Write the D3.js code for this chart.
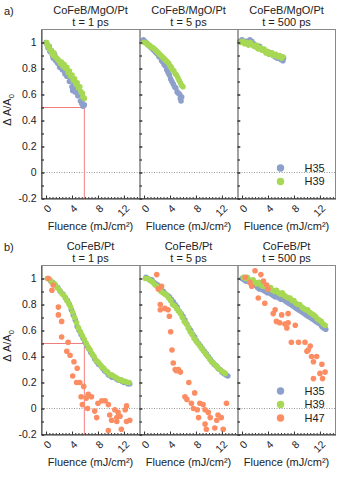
<!DOCTYPE html>
<html>
<head>
<meta charset="utf-8">
<script src="https://cdn.jsdelivr.net/npm/d3@7"></script>
<style>
body { margin: 0; background: #fff; }
text { font-family: "Liberation Sans", Arial, sans-serif; fill: #222; }
</style>
</head>
<body>
<div id="chart"></div>
<script>
// series names and tick labels
let seriesNames = ["H35", "H39", "H47"];
let delays = ["t = 1 ps", "t = 5 ps", "t = 500 ps"];
let xTickValues = [0, 4, 8, 12];
let yTickValues = [-0.2, 0, 0.2, 0.4, 0.6, 0.8, 1];
let yTickLabels = ["-0.2", "0", "0.2", "0.4", "0.6", "0.8", "1"];
let halfLevel = 0.5;
let halfFluence = [5.9, 5.9];

// a) CoFeB/MgO/Pt  [fluence, dA/A0]
let a1H35 = [[0.0,1.00],[0.2,0.98],[0.3,0.96],[0.5,0.97],[0.6,0.93],[0.8,0.94],[1.0,0.90],[1.1,0.88],[1.3,0.91],[1.5,0.86],[1.6,0.88],[1.8,0.84],[2.0,0.85],[2.1,0.81],[2.3,0.83],[2.5,0.79],[2.7,0.80],[2.9,0.76],[3.0,0.78],[3.2,0.74],[3.4,0.75],[3.6,0.70],[3.8,0.72],[4.0,0.66],[4.1,0.63],[4.3,0.68],[4.5,0.62],[4.7,0.64],[4.9,0.59],[5.1,0.60],[5.3,0.55],[5.5,0.53],[5.6,0.56],[5.7,0.51],[5.9,0.52]];
let a1H39 = [[0.1,1.00],[0.2,0.98],[0.4,0.97],[0.5,0.95],[0.7,0.94],[0.9,0.92],[1.1,0.90],[1.2,0.92],[1.4,0.89],[1.6,0.88],[1.8,0.87],[2.0,0.86],[2.2,0.84],[2.4,0.85],[2.6,0.82],[2.8,0.83],[3.0,0.80],[3.2,0.81],[3.4,0.77],[3.6,0.78],[3.8,0.74],[4.0,0.75],[4.2,0.71],[4.4,0.72],[4.6,0.68],[4.8,0.69],[5.0,0.65],[5.2,0.66],[5.4,0.62],[5.6,0.61],[5.7,0.58],[5.9,0.57]];
let a2H35 = [[-0.1,1.02],[0.1,1.01],[0.3,1.00],[0.5,0.99],[0.7,0.98],[0.9,0.97],[1.1,0.96],[1.3,0.95],[1.5,0.94],[1.7,0.93],[1.9,0.92],[2.1,0.91],[2.3,0.89],[2.5,0.89],[2.7,0.86],[2.9,0.85],[3.1,0.83],[3.3,0.82],[3.5,0.79],[3.7,0.77],[3.9,0.75],[4.1,0.72],[4.3,0.70],[4.5,0.68],[4.7,0.66],[4.9,0.65],[5.1,0.62],[5.3,0.61],[5.5,0.60],[5.6,0.57],[5.8,0.58],[5.7,0.55]];
let a2H39 = [[0.0,1.00],[0.2,1.00],[0.4,0.99],[0.6,0.98],[0.8,0.98],[1.0,0.97],[1.2,0.96],[1.4,0.96],[1.6,0.95],[1.8,0.94],[2.0,0.93],[2.2,0.92],[2.4,0.91],[2.6,0.90],[2.8,0.89],[3.0,0.88],[3.2,0.87],[3.4,0.86],[3.6,0.85],[3.8,0.84],[4.0,0.82],[4.2,0.81],[4.4,0.79],[4.6,0.78],[4.8,0.76],[5.0,0.75],[5.2,0.73],[5.4,0.71],[5.6,0.69],[5.8,0.67],[6.0,0.66]];
let a3H35 = [[-0.3,1.01],[0.0,1.02],[0.3,1.00],[0.6,1.01],[0.9,0.99],[1.2,1.02],[1.5,1.01],[1.8,0.99],[2.1,0.97],[2.4,0.96],[2.7,0.97],[3.0,0.95],[3.3,0.94],[3.6,0.93],[3.9,0.93],[4.2,0.91],[4.5,0.92],[4.8,0.90],[5.1,0.89],[5.4,0.88],[5.7,0.88],[6.0,0.87],[6.3,0.86],[6.4,0.88]];
let a3H39 = [[-0.2,1.00],[0.1,1.01],[0.4,0.99],[0.7,1.00],[1.0,0.98],[1.3,1.00],[1.6,0.98],[1.9,0.97],[2.2,0.98],[2.5,0.95],[2.8,0.96],[3.1,0.94],[3.4,0.95],[3.7,0.92],[4.0,0.93],[4.3,0.91],[4.6,0.92],[4.9,0.90],[5.2,0.91],[5.5,0.89],[5.8,0.90],[6.1,0.88],[6.3,0.89]];

// b) CoFeB/Pt
let b1H35 = [[0.3,1.00],[0.7,0.98],[1.0,0.97],[1.4,0.95],[1.8,0.93],[2.2,0.90],[2.6,0.88],[3.0,0.85],[3.3,0.83],[3.6,0.80],[3.9,0.76],[4.2,0.72],[4.5,0.68],[4.8,0.63],[5.1,0.60],[5.4,0.57],[5.7,0.54],[6.0,0.51],[6.3,0.48],[6.6,0.46],[6.9,0.43],[7.2,0.41],[7.5,0.38],[7.8,0.36],[8.1,0.34],[8.4,0.33],[8.7,0.31],[9.0,0.29],[9.3,0.28],[9.6,0.26],[9.9,0.25],[10.2,0.24],[10.5,0.24],[10.8,0.23],[11.1,0.22],[11.4,0.22],[11.7,0.21],[12.0,0.20],[12.3,0.20],[12.6,0.19],[12.9,0.19]];
let b1H39 = [[0.2,1.00],[0.6,0.99],[0.9,0.97],[1.3,0.96],[1.7,0.93],[2.1,0.91],[2.5,0.88],[2.9,0.86],[3.2,0.83],[3.5,0.81],[3.8,0.78],[4.1,0.74],[4.4,0.70],[4.7,0.66],[5.0,0.62],[5.3,0.59],[5.6,0.56],[5.9,0.53],[6.2,0.50],[6.5,0.47],[6.8,0.45],[7.1,0.42],[7.4,0.40],[7.7,0.37],[8.0,0.36],[8.3,0.34],[8.6,0.32],[8.9,0.31],[9.2,0.29],[9.5,0.28],[9.8,0.26],[10.1,0.26],[10.4,0.25],[10.7,0.24],[11.0,0.23],[11.3,0.22],[11.6,0.22],[11.9,0.21],[12.2,0.21],[12.5,0.20],[12.8,0.20]];
let b1H47 = [[0.35,1.00],[0.9,0.91],[1.1,0.95],[1.9,0.78],[1.9,0.72],[2.4,0.67],[2.4,0.55],[3.4,0.51],[3.2,0.44],[3.7,0.41],[4.3,0.36],[4.8,0.31],[4.1,0.25],[4.7,0.20],[5.2,0.20],[5.8,0.17],[5.4,0.09],[5.6,0.03],[6.5,0.11],[7.0,0.09],[6.4,0.00],[6.2,0.08],[7.5,-0.02],[7.8,-0.07],[8.0,0.04],[8.6,0.06],[9.1,0.06],[9.6,0.03],[9.8,-0.05],[10.1,-0.09],[10.6,-0.01],[10.9,-0.07],[9.6,-0.17],[11.1,-0.03],[11.4,-0.06],[12.2,-0.01],[12.4,0.02],[12.4,-0.10],[12.9,-0.09],[10.9,-0.10],[11.6,-0.16]];
let b2H35 = [[0.3,1.01],[0.6,1.00],[0.9,0.99],[1.2,0.99],[1.5,0.97],[1.8,0.96],[2.1,0.95],[2.4,0.93],[2.7,0.91],[3.0,0.90],[3.3,0.88],[3.6,0.87],[3.9,0.86],[4.2,0.84],[4.5,0.82],[4.8,0.80],[5.1,0.78],[5.4,0.75],[5.7,0.73],[6.0,0.71],[6.3,0.68],[6.6,0.65],[6.9,0.62],[7.2,0.60],[7.5,0.57],[7.8,0.55],[8.1,0.52],[8.4,0.50],[8.7,0.48],[9.0,0.46],[9.3,0.44],[9.6,0.42],[9.9,0.40],[10.2,0.38],[10.5,0.36],[10.8,0.34],[11.1,0.33],[11.4,0.31],[11.7,0.30],[12.0,0.28],[12.3,0.27],[12.6,0.26],[12.9,0.25]];
let b2H39 = [[0.2,1.00],[0.5,1.00],[0.8,0.99],[1.1,0.98],[1.4,0.97],[1.7,0.95],[2.0,0.94],[2.3,0.92],[2.6,0.90],[2.9,0.89],[3.2,0.88],[3.5,0.87],[3.8,0.85],[4.1,0.83],[4.4,0.80],[4.7,0.79],[5.0,0.77],[5.3,0.75],[5.6,0.73],[5.9,0.70],[6.2,0.67],[6.5,0.65],[6.8,0.62],[7.1,0.59],[7.4,0.57],[7.7,0.54],[8.0,0.52],[8.3,0.50],[8.6,0.48],[8.9,0.46],[9.2,0.44],[9.5,0.42],[9.8,0.40],[10.1,0.38],[10.4,0.36],[10.7,0.35],[11.0,0.33],[11.3,0.32],[11.6,0.30],[11.9,0.29],[12.2,0.28],[12.5,0.27]];
let b2H47 = [[1.95,1.03],[2.2,0.92],[2.7,0.94],[2.5,0.80],[2.5,0.76],[3.2,0.77],[3.7,0.76],[3.9,0.71],[4.1,0.59],[4.3,0.45],[4.5,0.35],[4.8,0.30],[5.3,0.30],[5.6,0.28],[5.0,0.29],[6.9,0.20],[6.3,0.09],[6.6,0.07],[7.3,0.04],[7.8,0.12],[7.6,0.00],[8.6,0.04],[8.2,-0.01],[9.1,0.03],[9.4,-0.01],[9.9,-0.03],[8.4,-0.07],[10.2,-0.07],[9.4,-0.12],[9.6,-0.16],[11.2,-0.09],[11.4,-0.05],[11.9,-0.07],[10.9,-0.15],[12.2,-0.16],[12.7,0.04]];
let b3H35 = [[0.0,1.00],[0.3,0.99],[0.6,0.98],[0.9,0.99],[1.2,0.97],[1.5,0.96],[1.8,0.95],[2.1,0.95],[2.4,0.93],[2.7,0.92],[3.0,0.92],[3.3,0.91],[3.6,0.90],[3.9,0.89],[4.2,0.89],[4.5,0.88],[4.8,0.87],[5.1,0.86],[5.4,0.86],[5.7,0.85],[6.0,0.84],[6.3,0.84],[6.6,0.83],[6.9,0.82],[7.2,0.81],[7.5,0.80],[7.8,0.79],[8.1,0.78],[8.4,0.77],[8.7,0.76],[9.0,0.75],[9.3,0.74],[9.6,0.73],[9.9,0.72],[10.2,0.71],[10.5,0.70],[10.8,0.69],[11.1,0.68],[11.4,0.67],[11.7,0.66],[12.0,0.65],[12.3,0.63],[12.6,0.62],[12.9,0.61]];
let b3H39 = [[0.2,1.01],[0.5,1.00],[0.8,1.01],[1.1,0.99],[1.4,0.98],[1.7,0.99],[2.0,0.97],[2.3,0.96],[2.6,0.97],[2.9,0.95],[3.2,0.94],[3.5,0.95],[3.8,0.93],[4.1,0.92],[4.4,0.93],[4.7,0.91],[5.0,0.90],[5.3,0.91],[5.6,0.89],[5.9,0.88],[6.2,0.89],[6.5,0.87],[6.8,0.86],[7.1,0.85],[7.4,0.85],[7.7,0.83],[8.0,0.83],[8.3,0.81],[8.6,0.80],[8.9,0.80],[9.2,0.78],[9.5,0.77],[9.8,0.76],[10.1,0.76],[10.4,0.74],[10.7,0.73],[11.0,0.72],[11.3,0.71],[11.6,0.69],[11.9,0.68],[12.2,0.67],[12.5,0.65],[12.8,0.64]];
let b3H47 = [[2.0,1.06],[2.9,1.03],[1.2,0.97],[1.5,0.94],[3.8,0.95],[4.0,0.92],[2.5,0.85],[3.5,0.81],[5.1,0.76],[4.8,0.73],[6.1,0.72],[7.1,0.73],[5.3,0.67],[5.8,0.66],[6.6,0.65],[7.1,0.66],[6.9,0.62],[8.2,0.64],[7.6,0.51],[8.7,0.51],[9.7,0.51],[10.5,0.48],[10.2,0.45],[10.0,0.44],[10.7,0.40],[11.5,0.40],[11.0,0.36],[12.3,0.34],[12.0,0.27],[12.8,0.28],[11.0,0.23],[12.4,0.23],[0.5,1.01],[3.3,0.98]];

//layout
let width = 343, height = 477;
let marginLeft = 41.5;
let panelW = 98, panelH = 169;
let rowTop = [29.5, 265.5];

let rows = [
  { tag: "a)", sample: "CoFeB/MgO/Pt", names: ["H35", "H39"],
    panels: [[a1H35, a1H39], [a2H35, a2H39], [a3H35, a3H39]] },
  { tag: "b)", sample: "CoFeB/Pt", names: ["H35", "H39", "H47"],
    panels: [[b1H35, b1H39, b1H47], [b2H35, b2H39, b2H47], [b3H35, b3H39, b3H47]] }
];

let color = d3.scaleOrdinal()
  .domain(seriesNames)
  .range(["#8da0cb", "#a6d854", "#fc8d62"]);

let x = d3.scaleLinear().domain([-0.7, 14.4]).range([0, panelW]);
let y = d3.scaleLinear().domain([-0.2, 1.1]).range([panelH, 0]);

let svg = d3.select("#chart")
  .append("svg")
  .attr("width", width)
  .attr("height", height);

rows.forEach(function(row, r) {
  let g = svg.append("g")
    .attr("transform", "translate(" + marginLeft + "," + rowTop[r] + ")");

  // frame (top + right)
  g.append("rect")
    .attr("x", 0).attr("y", 0)
    .attr("width", 3 * panelW).attr("height", panelH)
    .attr("fill", "none")
    .attr("stroke", "#888")
    .attr("stroke-width", 1);

  // zero line
  g.append("line")
    .attr("x1", 0).attr("x2", 3 * panelW)
    .attr("y1", y(0)).attr("y2", y(0))
    .attr("stroke", "#999")
    .attr("stroke-dasharray", "1,1.5");

  row.panels.forEach(function(sets, i) {
    let pg = g.append("g")
      .attr("transform", "translate(" + (i * panelW) + ",0)");

    // titles
    pg.append("text")
      .attr("x", panelW / 2).attr("y", -15.5)
      .attr("text-anchor", "middle")
      .style("font-size", "11px")
      .text(row.sample);
    pg.append("text")
      .attr("x", panelW / 2).attr("y", -4)
      .attr("text-anchor", "middle")
      .style("font-size", "11px")
      .text(delays[i]);

    // half-level guide in the first panel
    if (i == 0) {
      pg.append("path")
        .attr("d", "M0," + y(halfLevel) + "H" + x(halfFluence[r]) + "V" + panelH)
        .attr("fill", "none")
        .attr("stroke", "#f27f7f")
        .attr("stroke-width", 1);
    }

    // points
    sets.forEach(function(pts, k) {
      pg.append("g")
        .selectAll("circle")
        .data(pts)
        .enter()
        .append("circle")
        .attr("cx", function(d) { return x(d[0]); })
        .attr("cy", function(d) { return y(d[1]); })
        .attr("r", 2.8)
        .attr("fill", color(row.names[k]));
    });

    // left axis, ticks inward
    let yMinor = pg.append("g")
      .call(d3.axisLeft(y)
        .tickValues(d3.range(-2, 11).map(function(v) { return v / 10; }))
        .tickSizeInner(-2.5)
        .tickSizeOuter(0)
        .tickFormat(""));
    yMinor.select(".domain").remove();

    let yAxis = pg.append("g")
      .call(d3.axisLeft(y)
        .tickValues(yTickValues)
        .tickSizeInner(-3)
        .tickSizeOuter(0)
        .tickPadding(5)
        .tickFormat(function(d, j) { return i == 0 ? yTickLabels[j] : ""; }));
    yAxis.select(".domain").attr("stroke", "#444");
    yAxis.selectAll("line").attr("stroke", "#444");
    yAxis.selectAll("text").style("font-size", "10.5px").attr("fill", "#222");

    // bottom axis
    let xMinor = pg.append("g")
      .attr("transform", "translate(0," + panelH + ")")
      .call(d3.axisBottom(x)
        .tickValues(d3.range(0, 29).map(function(v) { return v / 2; }))
        .tickSizeInner(-1.5)
        .tickSizeOuter(0)
        .tickFormat(""));
    xMinor.select(".domain").attr("stroke", "#333");
    xMinor.selectAll("line").attr("stroke", "#333");

    let xAxis = pg.append("g")
      .attr("transform", "translate(0," + panelH + ")")
      .call(d3.axisBottom(x)
        .tickValues(xTickValues)
        .tickSizeInner(-3)
        .tickSizeOuter(0)
        .tickFormat(function(d) { return d; }));
    xAxis.select(".domain").remove();
    xAxis.selectAll("line").attr("stroke", "#333");
    xAxis.selectAll("text")
      .attr("y", 0)
      .attr("dy", "0.35em")
      .attr("text-anchor", "end")
      .attr("transform", "translate(3,8) rotate(-45)")
      .style("font-size", "10.5px")
      .attr("fill", "#222");

    pg.append("text")
      .attr("x", panelW / 2).attr("y", panelH + 31)
      .attr("text-anchor", "middle")
      .style("font-size", "11px")
      .text("Fluence (mJ/cm²)");
  });

  // legend in the last panel
  let lg = g.append("g");
  row.names.forEach(function(name, k) {
    let ly = (r == 0 ? 138.5 : 125.5) + k * 13.5;
    lg.append("circle")
      .attr("cx", 2 * panelW + 43).attr("cy", ly)
      .attr("r", 3.7)
      .attr("fill", color(name));
    lg.append("text")
      .attr("x", 2 * panelW + 67).attr("y", ly)
      .attr("dy", "0.35em")
      .style("font-size", "11px")
      .text(name);
  });

  // row tag and y label
  svg.append("text")
    .attr("x", 4).attr("y", rowTop[r] - 15)
    .style("font-size", "11px")
    .text(row.tag);

  let yl = svg.append("text")
    .attr("transform", "translate(11," + (rowTop[r] + panelH / 2 - 4) + ") rotate(-90)")
    .attr("text-anchor", "middle")
    .style("font-size", "11px")
    .text("Δ A/A");
  yl.append("tspan")
    .attr("dy", 2.5)
    .style("font-size", "7.5px")
    .text("0");
});
</script>
</body>
</html>
